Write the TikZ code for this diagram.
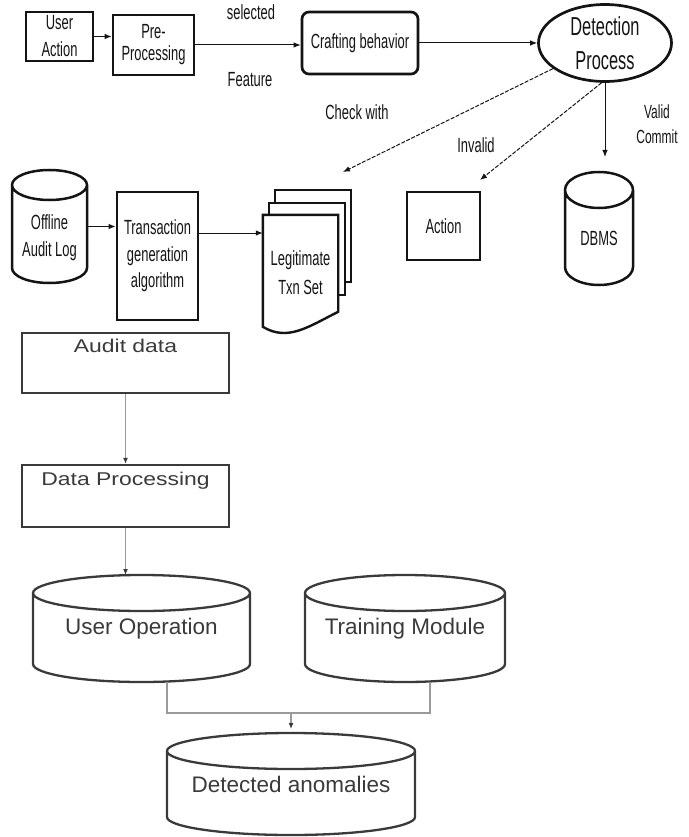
\documentclass[tikz,border=0pt]{standalone}
\usepackage{fontspec}
\setmainfont{Liberation Sans}
\newfontfamily\narrowsf[FakeStretch=0.63]{Liberation Sans}
\newfontfamily\widesf[FakeStretch=1.24]{Liberation Sans}
\usetikzlibrary{arrows.meta,positioning,calc,shapes.geometric,backgrounds}
\definecolor{Ink}{HTML}{141414}
\definecolor{Slate}{HTML}{3A3A3A}
\definecolor{Wire}{HTML}{9A9A9A}
\newcommand{\fs}[2]{\fontsize{#1pt}{#2pt}\selectfont}
\newcommand{\drawcyl}[4][cylline]{\draw[#1] (#2.north west) -- (#2.south west)
  arc[start angle=180,end angle=360,x radius=#3,y radius=#4] -- (#2.north east)
  arc[start angle=0,end angle=180,x radius=#3,y radius=#4]
  arc[start angle=180,end angle=360,x radius=#3,y radius=#4];}
\tikzset{
  topbox/.style={draw=Ink,line width=2.7pt,inner sep=2pt,align=center,text=Ink,font=\narrowsf\fs{20.5}{27}},
  toplbl/.style={inner sep=0pt,align=center,text=Ink,font=\narrowsf\fs{20.5}{25}},
  cylbody/.style={inner sep=0pt,outer sep=0pt,minimum width=#1},
  cylline/.style={draw=Ink,line width=2.5pt},
  lowline/.style={draw=Slate,line width=2.3pt},
  lowbox/.style={draw=Slate,line width=2.3pt,inner sep=0pt,text=Slate,font=\widesf\fs{18.5}{22},text height=13pt,text depth=34pt},
  lowlbl/.style={text=Slate,font=\fs{22.5}{27}},
  page/.style={draw=Ink,line width=2.4pt,fill=white},
  arr/.style={-{Latex[length=7pt,width=5.5pt]},draw=Ink,line width=1pt},
  dasharr/.style={arr,dash pattern=on 4pt off 1.5pt},
  wire/.style={draw=Wire,line width=1.6pt},
  wirearr/.style={wire,-{Latex[length=6pt,width=5pt,color=Slate]}}
}
\begin{document}
\begin{tikzpicture}[x=1pt,y=1pt]
  \useasboundingbox (0,0) rectangle (688,-837);
  % upper flow
  \node[topbox,minimum width=67pt,minimum height=49pt] (useract) at (59.5,-36.5) {User\\Action};
  \node[topbox,minimum width=81pt,minimum height=60pt,font=\narrowsf\fs{20.5}{22}] (preproc) at (153.5,-45) {Pre-\\Processing};
  \node[topbox,rounded corners=7pt,minimum width=116pt,minimum height=62pt] (crafting) at (360,-43) {Crafting behavior};
  \node[topbox,ellipse,inner sep=0pt,minimum width=133pt,minimum height=77pt,font=\narrowsf\fs{26}{34}] (detect) at (605,-43) {Detection\\Process};
  \node[toplbl] (selected) at (251,-12) {selected};
  \node[toplbl] (feature) at (250,-80) {Feature};
  \node[toplbl] (checkwith) at (357,-112) {Check with};
  \node[toplbl] (invalid) at (476,-145) {Invalid};
  \node[toplbl,font=\narrowsf\fs{19}{25}] (validcommit) at (657,-124) {Valid\\Commit};

  \node[cylbody=75pt,minimum height=83pt,label={[toplbl,font=\narrowsf\fs{20.5}{27},yshift=-11.5pt]center:{Offline\\Audit Log}}] (offline) at (49.5,-226.5) {};
  \node[topbox,minimum width=81pt,minimum height=128pt,font=\narrowsf\fs{20.5}{26.5}] (txngen) at (157.5,-256) {Transaction\\generation\\algorithm};
  \node[inner sep=0pt,align=center,text=Ink,font=\narrowsf\fs{20.5}{29},minimum width=75pt,minimum height=115pt] (legit) at (300.5,-272.5) {Legitimate\\Txn Set};
  \begin{pgfonlayer}{background}
    \draw[page] ($(legit.north west)+(12,25)$) rectangle ++(76,-92);
    \draw[page] ($(legit.north west)+(6,12)$) rectangle ++(76,-92);
    \draw[page] (legit.north west) -- (legit.north east) -- ++(0,-97)
      .. controls +(-30,-15) and +(25,-15) .. ($(legit.north west)+(0,-112)$) -- cycle;
  \end{pgfonlayer}
  \node[topbox,minimum width=73pt,minimum height=68pt] (action) at (443.5,-226) {Action};
  \node[cylbody=68pt,minimum height=77pt,label={[toplbl,yshift=-9.5pt]center:DBMS}] (dbms) at (599,-228.5) {};
  \drawcyl{offline}{37.5}{15}
  \drawcyl{dbms}{34}{18}

  \coordinate (checkend) at (343,-172);
  \coordinate (invalidend) at (480,-180);
  \coordinate (validend) at (605,-157);
  \draw[arr] (useract) -- (useract -| preproc.west);
  \draw[arr] (preproc.east) -- (preproc.east -| crafting.west);
  \draw[arr] (crafting) -- (detect);
  \draw[dasharr] (detect) -- (checkend);
  \draw[dasharr] (detect.265) -- (invalidend);
  \draw[arr] (detect.south) -- (validend);
  \draw[arr] (offline.east) -- (offline.east -| txngen.west);
  \draw[arr] ([yshift=23pt]txngen.east) -- ([yshift=23pt]txngen.east -| legit.west);

  % lower flow
  \node[lowbox,minimum width=207pt,minimum height=60pt] (auditdata) at (125.5,-363) {Audit data};
  \node[lowbox,minimum width=207pt,minimum height=62pt] (dataproc) at (125.5,-496) {Data Processing};
  \node[cylbody=217pt,minimum height=71pt,lowlbl] (userop) at (141.5,-628.5) {User Operation};
  \node[cylbody=200pt,minimum height=71pt,lowlbl] (training) at (405,-628.5) {Training Module};
  \node[cylbody=248pt,minimum height=66pt,lowlbl] (detected) at (291,-784) {Detected anomalies};
  \drawcyl[lowline]{userop}{108.5}{18}
  \drawcyl[lowline]{training}{100}{18}
  \drawcyl[lowline]{detected}{124}{18}

  \coordinate (merge) at (291,-713);
  \draw[wirearr] (auditdata) -- (dataproc);
  \draw[wirearr] (dataproc.south) -- ([yshift=18pt]dataproc.south |- userop.north);
  \draw[wire] ([xshift=25.5pt,yshift=-17.5pt]userop.south) |- (merge) -| ([xshift=25pt,yshift=-17.5pt]training.south);
  \draw[wirearr,shorten >=4pt] (merge) -- ([yshift=18pt]detected.north);
\end{tikzpicture}
\end{document}
